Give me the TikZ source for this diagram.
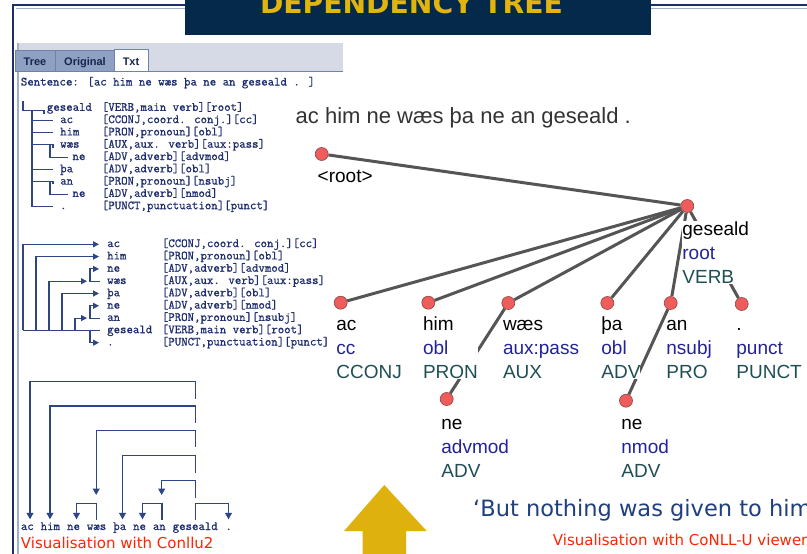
\documentclass[tikz,border=0pt]{standalone}
\usepackage{fontspec}
\usetikzlibrary{arrows.meta}
\newfontfamily\arialf{Liberation Sans}
\newfontfamily\dvsf{DejaVu Sans}
\newfontfamily\pmono[FakeBold=0.8]{Latin Modern Mono}
\definecolor{navyframe}{HTML}{1B2F6B}
\definecolor{lightframe}{HTML}{A3B0CC}
\definecolor{titlebg}{HTML}{04294A}
\definecolor{titlegold}{HTML}{E2B40E}
\definecolor{hdrgray}{HTML}{D6DAE6}
\definecolor{tabfill}{HTML}{8FA1C2}
\definecolor{tabborder}{HTML}{6F82A8}
\definecolor{tabtext}{HTML}{16264F}
\definecolor{paneltxt}{HTML}{1E2D6E}
\definecolor{panelline}{HTML}{2E4683}
\definecolor{dotred}{HTML}{EE5C5C}
\definecolor{dotedge}{HTML}{8C4444}
\definecolor{edgegray}{HTML}{555555}
\definecolor{deprelc}{HTML}{22229A}
\definecolor{posc}{HTML}{1F4F55}
\definecolor{sentgray}{HTML}{333333}
\definecolor{engblue}{HTML}{1F3F7E}
\definecolor{redlab}{HTML}{FF2400}
\definecolor{arrowgold}{HTML}{DEB10F}
\pgfdeclarelayer{edges}
\pgfsetlayers{edges,main}
\newcommand{\tlab}[3]{\rule{0pt}{15pt}#1\\\textcolor{deprelc}{#2}\\\textcolor{posc}{#3}}
\tikzset{
  dot/.style={circle,minimum size=13pt,inner sep=0pt,fill=dotred,draw=dotedge,line width=0.6pt},
  dep/.style={line width=3pt,draw=edgegray},
  lbl/.style={anchor=north west,inner sep=0pt,fill=white,align=left,font=\arialf\fontsize{19}{24}\selectfont},
  ptxt/.style={anchor=base west,inner sep=0pt,text=paneltxt,font=\pmono\fontsize{12.5}{14}\selectfont},
  tline/.style={draw=panelline,line width=1.1pt},
  rarr/.style={tline,-{Triangle[width=6pt,length=6pt]}},
  darr/.style={tline,-{Triangle[width=7pt,length=6.5pt]}},
  tabtxt/.style={anchor=base,inner sep=0pt,text=tabtext,font=\arialf\bfseries\fontsize{11}{13}\selectfont},
}
\begin{document}
\begin{tikzpicture}[x=1pt,y=-1pt]
\useasboundingbox (0,0) rectangle (807,554);
\begin{pgfonlayer}{edges}
\fill[white] (0,0) rectangle (807,554);
\end{pgfonlayer}
% slide frame
\draw[navyframe,line width=2.2pt] (13,554) -- (13,5) -- (807,5);
\draw[lightframe,line width=1pt] (16,8) -- (807,8);
\draw[lightframe,line width=2pt] (17.5,43) -- (17.5,554);
% title
\fill[titlebg] (185,0) rectangle (651,35);
\node[anchor=base,inner sep=0pt,text=titlegold,font=\dvsf\bfseries] (title) at (411.5,14) {\resizebox{303pt}{!}{DEPENDENCY TREE}};
% panel header and tabs
\fill[hdrgray] (18.5,43) rectangle (343,72);
\draw[tabborder,line width=1.2pt] (18.5,71.5) -- (343,71.5);
\filldraw[fill=tabfill,draw=tabborder,line width=0.6pt] (15,50) rectangle (55,71.5);
\filldraw[fill=tabfill,draw=tabborder,line width=0.6pt] (55,50) rectangle (114,71.5);
\filldraw[fill=white,draw=tabborder,line width=0.6pt] (114,49) rectangle (148,71.5);
\node[tabtxt] (tab1) at (35,65) {Tree};
\node[tabtxt] (tab2) at (85,65) {Original};
\node[tabtxt] (tab3) at (131,65) {Txt};
% block 1
\node[ptxt] (sent) at (20.7,85.5) {Sentence: [ac him ne wæs þa ne an geseald . ]};
\node[ptxt] (a0) at (46.7,110.8) {geseald};
\node[ptxt] (a1) at (60,123.1) {ac};
\node[ptxt] (a2) at (60,135.4) {him};
\node[ptxt] (a3) at (60,147.7) {wæs};
\node[ptxt] (a4) at (72.3,160.0) {ne};
\node[ptxt] (a5) at (60,172.3) {þa};
\node[ptxt] (a6) at (60,184.6) {an};
\node[ptxt] (a7) at (72.3,196.9) {ne};
\node[ptxt] (a8) at (60,209.2) {.};
\node[ptxt] (b0) at (101.7,110.8) {[VERB,main verb][root]};
\node[ptxt] (b1) at (101.7,123.1) {[CCONJ,coord. conj.][cc]};
\node[ptxt] (b2) at (101.7,135.4) {[PRON,pronoun][obl]};
\node[ptxt] (b3) at (101.7,147.7) {[AUX,aux. verb][aux:pass]};
\node[ptxt] (b4) at (101.7,160.0) {[ADV,adverb][advmod]};
\node[ptxt] (b5) at (101.7,172.3) {[ADV,adverb][obl]};
\node[ptxt] (b6) at (101.7,184.6) {[PRON,pronoun][nsubj]};
\node[ptxt] (b7) at (101.7,196.9) {[ADV,adverb][nmod]};
\node[ptxt] (b8) at (101.7,209.2) {[PUNCT,punctuation][punct]};
\draw[tline] (23,101) |- (44,110.7) -- (44,113.5);
\draw[tline] (32,110.7) |- (53,206.4);
\draw[tline] (32,120.3) -- (53,120.3);
\draw[tline] (32,132.6) -- (53,132.6);
\draw[tline] (32,144.9) -- (53,144.9) -- (53,147.5);
\draw[tline] (50,144.9) |- (68,157.2);
\draw[tline] (32,169.5) -- (53,169.5);
\draw[tline] (32,181.8) -- (53,181.8) -- (53,184.4);
\draw[tline] (50,181.8) |- (68,194.1);
% block 2
\node[ptxt] (c1) at (107,247.1) {ac};
\node[ptxt] (c2) at (107,259.4) {him};
\node[ptxt] (c3) at (107,271.7) {ne};
\node[ptxt] (c4) at (107,284.0) {wæs};
\node[ptxt] (c5) at (107,296.3) {þa};
\node[ptxt] (c6) at (107,308.6) {ne};
\node[ptxt] (c7) at (107,320.9) {an};
\node[ptxt] (c8) at (107,333.2) {geseald};
\node[ptxt] (c9) at (107,345.5) {.};
\node[ptxt] (d1) at (161.7,247.1) {[CCONJ,coord. conj.][cc]};
\node[ptxt] (d2) at (161.7,259.4) {[PRON,pronoun][obl]};
\node[ptxt] (d3) at (161.7,271.7) {[ADV,adverb][advmod]};
\node[ptxt] (d4) at (161.7,284.0) {[AUX,aux. verb][aux:pass]};
\node[ptxt] (d5) at (161.7,296.3) {[ADV,adverb][obl]};
\node[ptxt] (d6) at (161.7,308.6) {[ADV,adverb][nmod]};
\node[ptxt] (d7) at (161.7,320.9) {[PRON,pronoun][nsubj]};
\node[ptxt] (d8) at (161.7,333.2) {[VERB,main verb][root]};
\node[ptxt] (d9) at (161.7,345.5) {[PUNCT,punctuation][punct]};
\draw[tline] (23,330.4) -- (100,330.4);
\draw[rarr] (23,330.4) |- (99,244.3);
\draw[rarr] (36,330.4) |- (99,256.6);
\draw[rarr] (49,330.4) |- (87,281.2);
\draw[rarr] (62,330.4) |- (99,293.5);
\draw[rarr] (75,330.4) |- (87,318.1);
\draw[rarr] (100,281.2) -| (90,268.9) -- (99,268.9);
\draw[rarr] (100,318.1) -| (90,305.8) -- (99,305.8);
\draw[rarr] (90,330.4) |- (99,342.7);
% block 3
\node[ptxt] (e1) at (20.7,530) {ac};
\node[ptxt] (e2) at (40.5,530) {him};
\node[ptxt] (e3) at (66.9,530) {ne};
\node[ptxt] (e4) at (86.7,530) {wæs};
\node[ptxt] (e5) at (113.1,530) {þa};
\node[ptxt] (e6) at (132.9,530) {ne};
\node[ptxt] (e7) at (152.7,530) {an};
\node[ptxt] (e8) at (172.5,530) {geseald};
\node[ptxt] (e9) at (225.3,530) {.};
\draw[darr] (195.5,399) -- (195.5,381.7) -| (30,519.3);
\draw[darr] (195.5,423) -- (195.5,406) -| (50,519.3);
\draw[darr] (195.5,447) -- (195.5,430.7) -| (96.2,495);
\draw[darr] (195.5,473) -- (195.5,455.7) -| (122.5,519.3);
\draw[darr] (195.5,498) -- (195.5,480.7) -| (161.7,495);
\draw[darr] (195.5,520) -- (195.5,503.3) -| (228.5,519.3);
\draw[darr] (96.2,520) -- (96.2,503.3) -| (76.5,519.3);
\draw[darr] (162,520) -- (162,503.3) -| (142.5,519.3);
\node[anchor=base west,inner sep=0pt,text=redlab,font=\dvsf\fontsize{15}{18}\selectfont] (lab1) at (20.7,548) {Visualisation with Conllu2};
% right tree
\node[anchor=base west,inner sep=0pt,text=sentgray,font=\arialf\fontsize{22}{26}\selectfont] (sent2) at (295.5,123.3) {ac him ne wæs þa ne an geseald .};
\node[dot] (rt) at (321.7,154) {};
\node[dot] (gs) at (687.3,206) {};
\node[dot] (ac) at (340.7,302.7) {};
\node[dot] (him) at (428.3,302.7) {};
\node[dot] (ws) at (508.3,303) {};
\node[dot] (tha) at (607.3,303) {};
\node[dot] (an) at (670.7,303) {};
\node[dot] (pu) at (741.7,304) {};
\node[dot] (ne1) at (446.7,399) {};
\node[dot] (ne2) at (626,400.7) {};
\node[anchor=base west,inner sep=0pt,font=\arialf\fontsize{19}{24}\selectfont] (rtl) at (317.5,182.7) {<root>};
\node[lbl] (gsl) at (682.2,220.5) {\tlab{geseald}{root}{VERB}};
\node[lbl] (acl) at (336.2,315.7) {\tlab{ac}{cc}{CCONJ}};
\node[lbl] (himl) at (422.8,315.7) {\tlab{him}{obl}{PRON}};
\node[lbl] (wsl) at (502.8,315.7) {\tlab{wæs}{aux:pass}{AUX}};
\node[lbl] (thal) at (601.2,315.7) {\tlab{þa}{obl}{ADV}};
\node[lbl] (anl) at (666.2,315.7) {\tlab{an}{nsubj}{PRO}};
\node[lbl] (pul) at (736.2,315.7) {\tlab{.}{punct}{PUNCT}};
\node[lbl] (ne1l) at (441.2,414) {\tlab{ne}{advmod}{ADV}};
\node[lbl] (ne2l) at (621.2,414) {\tlab{ne}{nmod}{ADV}};
\begin{pgfonlayer}{edges}
\draw[dep] (rt) -- (gs);
\draw[dep] (gs) -- (ac);
\draw[dep] (gs) -- (him);
\draw[dep] (gs) -- (ws);
\draw[dep] (gs) -- (tha);
\draw[dep] (gs) -- (an);
\draw[dep] (gs) -- (pu);
\draw[dep] (ws) -- (ne1);
\draw[dep] (an) -- (ne2);
\end{pgfonlayer}
% gold arrow
\fill[arrowgold] (384.3,485) -- (426.7,531) -- (406,531) -- (406,560) -- (362.7,560) -- (362.7,531) -- (344,531) -- cycle;
% bottom texts
\node[anchor=base west,inner sep=0pt,text=engblue,font=\dvsf\fontsize{22.5}{27}\selectfont] (eng) at (473,516.7) {‘But nothing was given to him};
\node[anchor=base west,inner sep=0pt,text=redlab,font=\dvsf\fontsize{15}{18}\selectfont] (lab2) at (552.7,545) {Visualisation with CoNLL-U viewer};
\end{tikzpicture}
\end{document}
